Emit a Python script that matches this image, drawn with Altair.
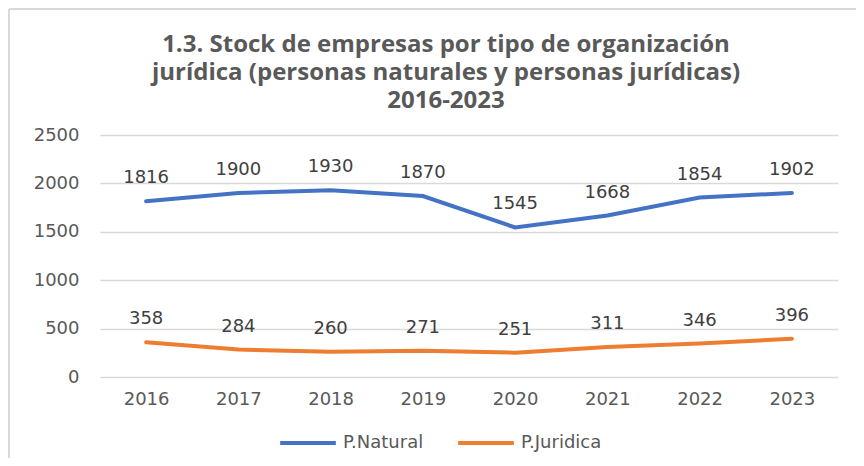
import altair as alt
import pandas as pd

years = ["2016", "2017", "2018", "2019", "2020", "2021", "2022", "2023"]
natural = [1816, 1900, 1930, 1870, 1545, 1668, 1854, 1902]
juridica = [358, 284, 260, 271, 251, 311, 346, 396]
series_names = ["P.Natural", "P.Juridica"]
colors = ["#4472C4", "#ED7D31"]

rows = []
for y, v in zip(years, natural):
    rows.append({"year": y, "value": v, "serie": series_names[0]})
for y, v in zip(years, juridica):
    rows.append({"year": y, "value": v, "serie": series_names[1]})
df = pd.DataFrame(rows)

x = alt.X("year:N", title=None, sort=years,
          scale=alt.Scale(type="point", padding=0.5),
          axis=alt.Axis(labelAngle=0, domain=False, ticks=False, grid=False,
                        labelFont="DejaVu Sans", labelFontSize=18,
                        labelColor="#595959", labelPadding=13))
y = alt.Y("value:Q", title=None,
          scale=alt.Scale(domain=[0, 2500], nice=False),
          axis=alt.Axis(values=[0, 500, 1000, 1500, 2000, 2500], format="d",
                        domain=False, ticks=False, gridColor="#d9d9d9", gridWidth=1.3,
                        labelFont="DejaVu Sans", labelFontSize=18,
                        labelColor="#595959", labelPadding=21))
color = alt.Color("serie:N", sort=series_names,
                  scale=alt.Scale(domain=series_names, range=colors),
                  legend=alt.Legend(title=None, orient="none", direction="horizontal",
                                    legendX=178, legendY=278,
                                    symbolType="stroke", symbolSize=3100,
                                    symbolStrokeWidth=4, symbolOpacity=1,
                                    columnPadding=26,
                                    labelFont="DejaVu Sans", labelFontSize=18,
                                    labelColor="#595959", labelOffset=5))

base = alt.Chart(df)
lines = base.mark_line(strokeWidth=4, strokeCap="round").encode(x=x, y=y, color=color)
labels = base.mark_text(font="DejaVu Sans", fontSize=18, color="#404040",
                        baseline="alphabetic", dy=-18).encode(
    x=alt.X("year:N", sort=years), y="value:Q", text="value:Q")

frame_left = alt.Chart(df).mark_rule(color="#d9d9d9", strokeWidth=2).encode(
    x=alt.value(-91), y=alt.value(-126), y2=alt.value(340))
frame_top = alt.Chart(df).mark_rule(color="#d9d9d9", strokeWidth=2).encode(
    x=alt.value(-91), x2=alt.value(760), y=alt.value(-126))

chart = alt.layer(frame_left, frame_top, lines, labels).properties(
    width=738, height=242,
    padding={"left": 92, "top": 127, "right": 18, "bottom": 81},
    autosize=alt.AutoSizeParams(type="none"),
    title=alt.TitleParams(
        ["1.3.  Stock de empresas por tipo de organización",
         "jurídica (personas naturales y personas jurídicas)",
         "2016-2023"],
        font="Open Sans", fontSize=24, fontWeight="bold", color="#595959",
        anchor="middle", frame="group", dx=-23, offset=-105, lineHeight=28),
).configure_view(stroke=None)

chart.save("out.html", embed_options={"renderer": "svg", "actions": False})
